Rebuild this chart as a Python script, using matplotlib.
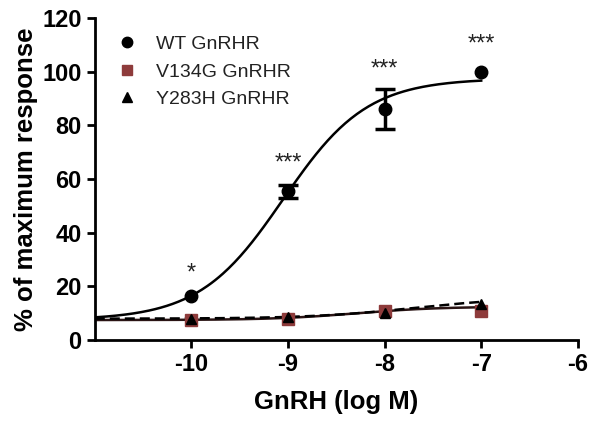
import numpy as np
import matplotlib.pyplot as plt
from matplotlib.lines import Line2D

plt.rcParams['font.family'] = ['Liberation Sans', 'DejaVu Sans']
plt.rcParams['axes.unicode_minus'] = False

log_dose = [-10, -9, -8, -7]

wt = [16.5, 55.5, 86, 100]
wt_err = [0, 2.5, 7.5, 0]
v134g = [7.5, 8.0, 11.0, 11.0]
y283h = [8.0, 8.5, 10.0, 13.5]

# fitted sigmoid parameters (bottom, top, logEC50, hill)
wt_fit = (7.5, 97.5, -9.05, 1.0)
v134g_fit = (7.5, 12.5, -8.3, 1.0)
y283h_fit = (8.0, 16.0, -7.7, 0.8)

stars = ['*', '***', '***', '***']
star_y = [25, 66, 101, 110]

labels = ['WT GnRHR', 'V134G GnRHR', 'Y283H GnRHR']
brown = '#8e3b3b'


def sigmoid(x, p):
    bottom, top, ec50, hill = p
    return bottom + (top - bottom) / (1 + 10 ** ((ec50 - x) * hill))


fig, ax = plt.subplots(figsize=(6, 4.21), dpi=100)
fig.subplots_adjust(left=0.158, right=0.963, top=0.957, bottom=0.192)

xs = np.linspace(-11, -7, 200)
ax.plot(xs, sigmoid(xs, wt_fit), color='black', lw=1.8)
ax.plot(xs, sigmoid(xs, v134g_fit), color='#2a1414', lw=1.8)
ax.plot(xs, sigmoid(xs, y283h_fit), color='black', lw=1.8, ls=(0, (4, 2)))

# error bars only where the SEM is visible outside the marker
for x, y, e in zip(log_dose, wt, wt_err):
    if e > 0:
        ax.errorbar(x, y, yerr=e, fmt='none', ecolor='black',
                    elinewidth=2.5, capsize=7, capthick=2.5, zorder=5)
ax.plot(log_dose, wt, 'o', color='black', ms=9, zorder=5)
ax.plot(log_dose, v134g, 's', color=brown, ms=9, zorder=4)
ax.plot(log_dose, y283h, '^', color='black', ms=7.5, zorder=6)

for x, s, y in zip(log_dose, stars, star_y):
    ax.text(x, y, s, ha='center', va='center', fontsize=17, color='#222222')

ax.set_xlim(-11, -6)
ax.set_ylim(0, 120)
ax.set_xticks([-10, -9, -8, -7, -6])
ax.set_yticks(range(0, 121, 20))

for side in ['top', 'right']:
    ax.spines[side].set_visible(False)
for side in ['left', 'bottom']:
    ax.spines[side].set_linewidth(2)
ax.tick_params(width=2, length=6, labelsize=17)
for lab in ax.get_xticklabels() + ax.get_yticklabels():
    lab.set_fontweight('bold')

ax.set_xlabel('GnRH (log M)', fontsize=18.5, fontweight='bold', labelpad=10)
ax.set_ylabel('% of maximum response', fontsize=18.5, fontweight='bold', labelpad=3)

handles = [Line2D([], [], marker='o', ls='none', color='black', ms=7.5),
           Line2D([], [], marker='s', ls='none', color=brown, ms=7.5),
           Line2D([], [], marker='^', ls='none', color='black', ms=7.5)]
ax.legend(handles, labels, loc='upper left', bbox_to_anchor=(-0.01, 1.0),
          frameon=False, fontsize=14, handletextpad=0.5, labelspacing=0.5,
          labelcolor='#222222')

fig.savefig('out.png')
